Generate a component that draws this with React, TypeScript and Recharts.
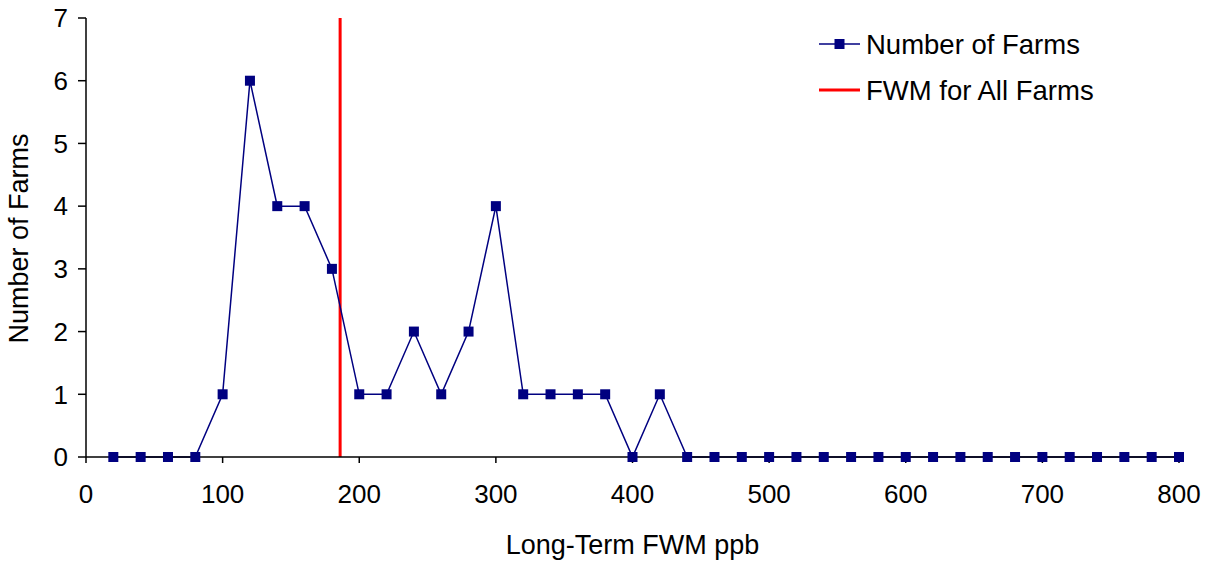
import React from "react";
import { LineChart, Line, XAxis, YAxis, ReferenceLine, Legend } from "recharts";

const fwmBins = [20, 40, 60, 80, 100, 120, 140, 160, 180, 200, 220, 240, 260, 280, 300, 320, 340, 360, 380, 400, 420, 440, 460, 480, 500, 520, 540, 560, 580, 600, 620, 640, 660, 680, 700, 720, 740, 760, 780, 800];
const farmCounts = [0, 0, 0, 0, 1, 6, 4, 4, 3, 1, 1, 2, 1, 2, 4, 1, 1, 1, 1, 0, 1, 0, 0, 0, 0, 0, 0, 0, 0, 0, 0, 0, 0, 0, 0, 0, 0, 0, 0, 0];
const fwmAllFarms = 186;
const xTicks = [0, 100, 200, 300, 400, 500, 600, 700, 800];
const yTicks = [0, 1, 2, 3, 4, 5, 6, 7];
const seriesName = "Number of Farms";
const refName = "FWM for All Farms";

const data = fwmBins.map((x, i) => ({ x, count: farmCounts[i] }));

const FONT = "'Liberation Sans', Arial, sans-serif";
const NAVY = "#000080";
const RED = "#FF0000";

const SquareDot = (props: any) => {
  const { cx, cy, index } = props;
  if (cx == null || cy == null) return <g key={index} />;
  return <rect key={index} x={cx - 5} y={cy - 5} width={10} height={10} fill={NAVY} />;
};

const LegendContent = () => (
  <svg width={340} height={100}>
    <line x1={9} y1={22} x2={50} y2={22} stroke={NAVY} strokeWidth={1.5} />
    <rect x={24.5} y={17} width={10} height={10} fill={NAVY} />
    <text x={56} y={22} dy="0.35em" fontSize={27.5} fontFamily={FONT} fill="#000">{seriesName}</text>
    <line x1={9} y1={68} x2={50} y2={68} stroke={RED} strokeWidth={3} />
    <text x={56} y={68} dy="0.35em" fontSize={27.5} fontFamily={FONT} fill="#000">{refName}</text>
  </svg>
);

export default function App() {
  return (
    <div style={{ position: "absolute", left: 0, top: 0, width: 1208, height: 565, background: "#fff" }}>
      <LineChart width={1208} height={565} data={data} margin={{ top: 18, right: 29, left: 0, bottom: 0 }}>
        <XAxis
          dataKey="x"
          type="number"
          domain={[0, 800]}
          ticks={xTicks}
          interval={0}
          height={108}
          tickSize={6}
          tickMargin={22}
          stroke="#000"
          strokeWidth={1.5}
          tick={{ fill: "#000", fontSize: 26, fontFamily: FONT }}
          label={{ value: "Long-Term FWM ppb", position: "insideBottom", offset: 11, fill: "#000", fontSize: 27, fontFamily: FONT }}
        />
        <YAxis
          type="number"
          domain={[0, 7]}
          ticks={yTicks}
          interval={0}
          width={86}
          tickSize={8}
          tickMargin={10}
          stroke="#000"
          strokeWidth={1.5}
          tick={{ fill: "#000", fontSize: 26, fontFamily: FONT }}
          label={{ value: "Number of Farms", angle: -90, position: "insideLeft", offset: 18, dy: 106, fill: "#000", fontSize: 27, fontFamily: FONT }}
        />
        <ReferenceLine x={fwmAllFarms} stroke={RED} strokeWidth={3} />
        <Line
          type="linear"
          dataKey="count"
          name={seriesName}
          stroke={NAVY}
          strokeWidth={1.5}
          dot={SquareDot}
          activeDot={false}
          isAnimationActive={false}
        />
        <Legend content={LegendContent} layout="vertical" verticalAlign="middle" align="center" wrapperStyle={{ top: 22, left: 810, width: 340 }} />
      </LineChart>
    </div>
  );
}
